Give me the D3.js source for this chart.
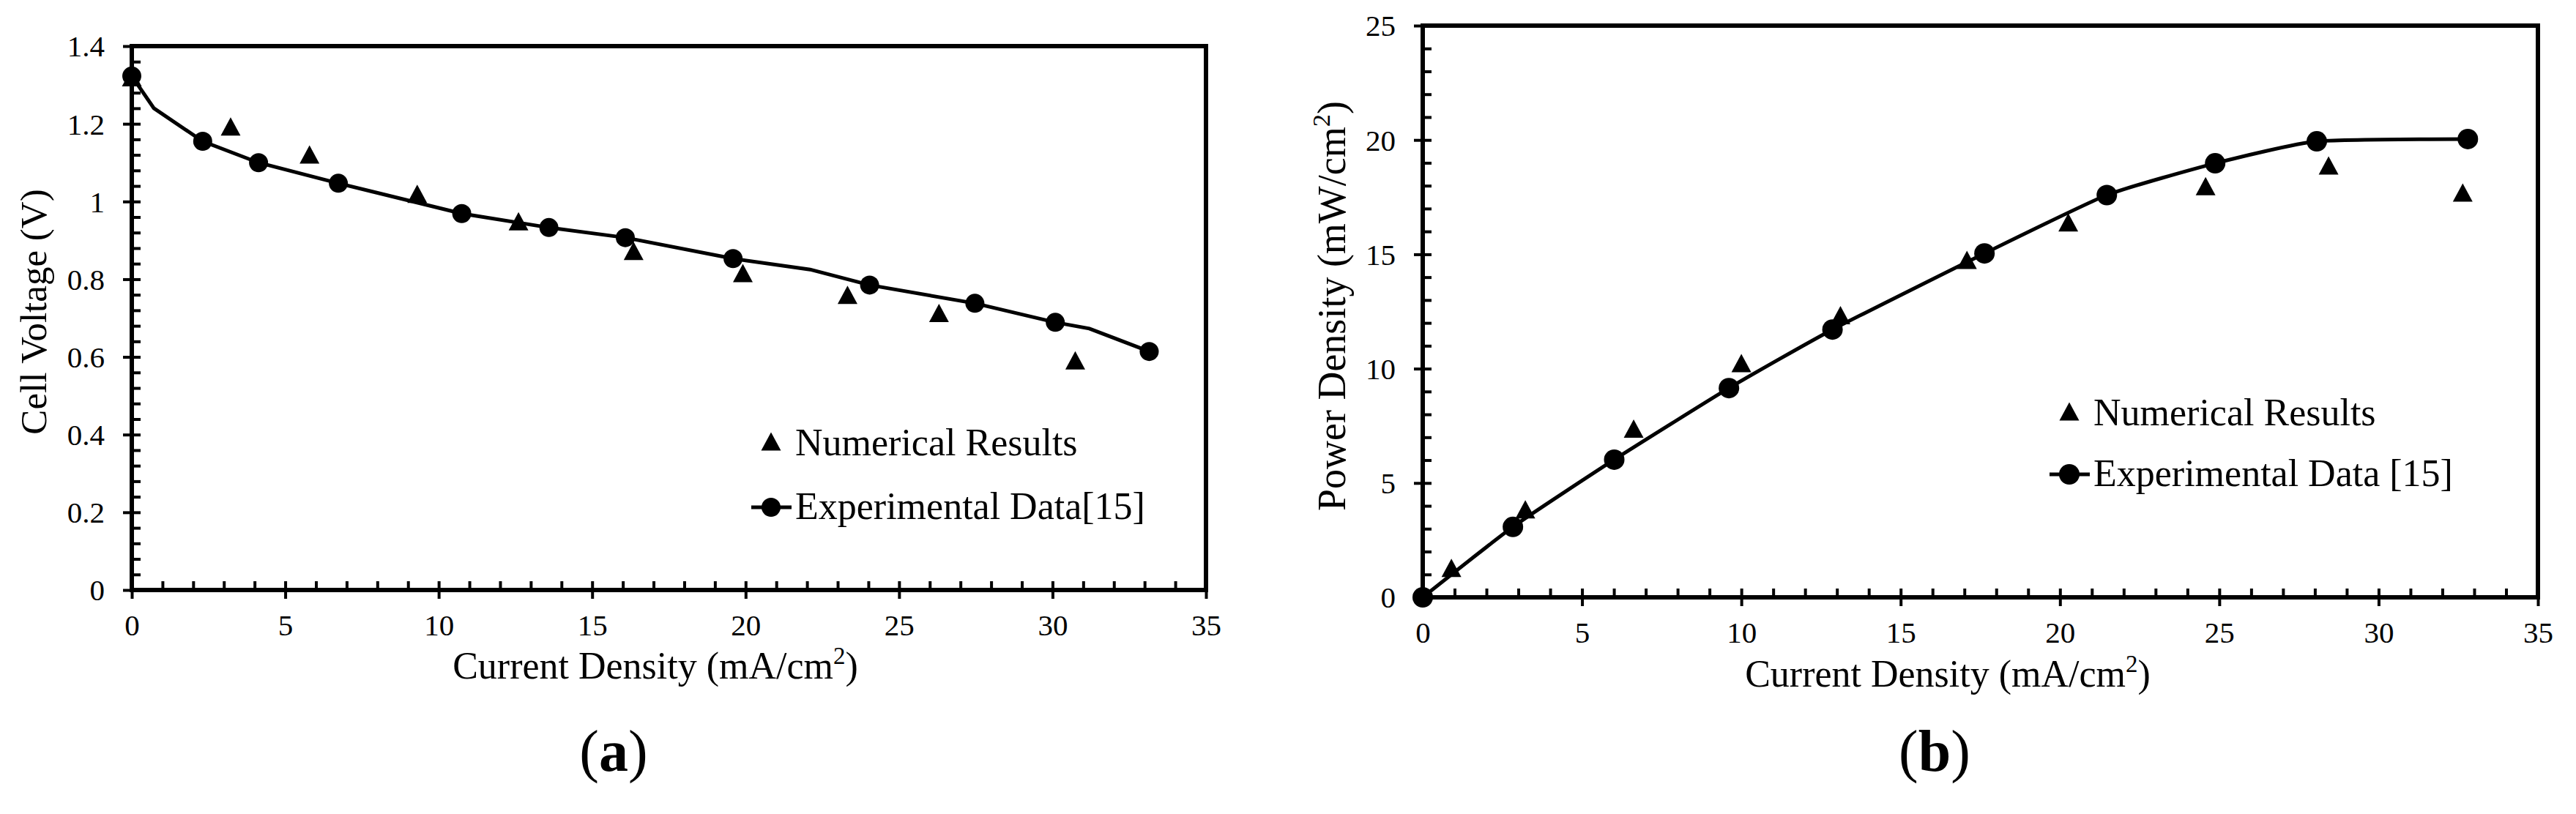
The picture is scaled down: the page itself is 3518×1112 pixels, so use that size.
<!DOCTYPE html>
<html>
<head>
<meta charset="utf-8">
<script src="https://cdn.jsdelivr.net/npm/d3@7"></script>
<style>
  body { margin: 0; background: #fff; }
  text { font-family: "Liberation Serif", "Times New Roman", serif; fill: #000; }
</style>
</head>
<body>
<svg id="fig" width="3518" height="1112"></svg>
<script>
/// (a) CELL VOLTAGE ///
const aNumX = [0, 3.22, 5.79, 9.3, 12.6, 16.35, 19.91, 23.32, 26.3, 30.74];
const aNumY = [1.32, 1.193, 1.121, 1.02, 0.949, 0.873, 0.816, 0.76, 0.713, 0.591];
const aExpX = [0, 2.31, 4.13, 6.73, 10.75, 13.59, 16.08, 19.59, 24.04, 27.47, 30.09, 33.15];
const aExpY = [1.323, 1.155, 1.1, 1.047, 0.969, 0.933, 0.907, 0.853, 0.785, 0.738, 0.689, 0.614];
// the experimental curve has a few more points than the markers
const aLineX = [0, 0.72, 2.31, 4.13, 6.73, 10.75, 13.59, 16.08, 19.59, 22.1, 24.04, 27.47, 30.09, 31.2, 33.15];
const aLineY = [1.323, 1.24, 1.155, 1.1, 1.047, 0.969, 0.933, 0.907, 0.853, 0.825, 0.785, 0.738, 0.689, 0.673, 0.614];
const aXTicks = [0, 5, 10, 15, 20, 25, 30, 35];
const aYTicks = [0, 0.2, 0.4, 0.6, 0.8, 1, 1.2, 1.4];

/// (b) POWER DENSITY ///
const bNumX = [0.9, 3.22, 6.62, 10.0, 13.11, 17.08, 20.26, 24.57, 28.43, 32.64];
const bNumY = [1.29, 3.85, 7.38, 10.24, 12.34, 14.76, 16.4, 17.98, 18.89, 17.7];
const bExpX = [0, 2.83, 6.01, 9.61, 12.86, 17.63, 21.47, 24.87, 28.06, 32.8];
const bExpY = [0, 3.08, 6.02, 9.15, 11.71, 15.04, 17.59, 18.98, 19.94, 20.04];
const bXTicks = [0, 5, 10, 15, 20, 25, 30, 35];
const bYTicks = [0, 5, 10, 15, 20, 25];

const legendNames = ["Numerical Results", "Experimental Data[15]", "Experimental Data [15]"];

const zip = (xs, ys) => xs.map((v, i) => [v, ys[i]]);

const svg = d3.select("#fig");
svg.append("rect").attr("width", 3518).attr("height", 1112).attr("fill", "#fff");

// triangle centred on its bounding box
function triPath(cx, cy, w = 27, h = 25) {
  return `M${cx},${cy - h / 2}L${cx + w / 2},${cy + h / 2}L${cx - w / 2},${cy + h / 2}Z`;
}

function drawPanel(p) {
  const x = d3.scaleLinear().domain([0, 35]).range([p.left, p.right]);
  const y = d3.scaleLinear().domain([0, p.yMax]).range([p.bottom, p.top]);
  const g = svg.append("g");

  // inward ticks (minor + major)
  g.append("g")
    .attr("transform", `translate(0,${p.bottom})`)
    .call(d3.axisBottom(x).tickValues(d3.range(0, 35.001, 1)).tickSize(-12).tickFormat(""))
    .call((s) => s.select(".domain").remove())
    .selectAll("line").attr("stroke-width", 4);

  g.append("g")
    .attr("transform", `translate(${p.left},0)`)
    .call(d3.axisLeft(y).tickValues(d3.range(0, p.yMax + 1e-9, p.yMinor)).tickSize(-12).tickFormat(""))
    .call((s) => s.select(".domain").remove())
    .selectAll("line").attr("stroke-width", 4);

  // outward major ticks with labels
  const xAxis = g.append("g")
    .attr("transform", `translate(0,${p.bottom})`)
    .call(d3.axisBottom(x).tickValues(p.xTicks).tickSize(12).tickFormat((d) => String(d)))
    .call((s) => s.select(".domain").remove());
  xAxis.selectAll("line").attr("stroke-width", 4);
  xAxis.selectAll("text").attr("y", 62).attr("dy", 0).attr("font-size", 41);

  const yAxis = g.append("g")
    .attr("transform", `translate(${p.left},0)`)
    .call(d3.axisLeft(y).tickValues(p.yTicks).tickSize(12).tickFormat((d) => String(d)))
    .call((s) => s.select(".domain").remove());
  yAxis.selectAll("line").attr("stroke-width", 4);
  yAxis.selectAll("text").attr("x", -37).attr("dy", "0.34em").attr("font-size", 41);

  // plot frame
  g.append("rect")
    .attr("x", p.left)
    .attr("y", p.top)
    .attr("width", p.right - p.left)
    .attr("height", p.bottom - p.top)
    .attr("fill", "none")
    .attr("stroke", "#000")
    .attr("stroke-width", 6);

  // experimental curve
  g.append("path")
    .datum(p.line)
    .attr("d", d3.line().x((d) => x(d[0])).y((d) => y(d[1])).curve(p.curve))
    .attr("fill", "none")
    .attr("stroke", "#000")
    .attr("stroke-width", 5);

  // numerical results
  g.selectAll(".num")
    .data(p.num)
    .enter()
    .append("path")
    .attr("class", "num")
    .attr("d", (d) => triPath(x(d[0]), y(d[1])))
    .attr("fill", "#000");

  // experimental markers
  g.selectAll(".exp")
    .data(p.exp)
    .enter()
    .append("circle")
    .attr("class", "exp")
    .attr("cx", (d) => x(d[0]))
    .attr("cy", (d) => y(d[1]))
    .attr("r", p.r)
    .attr("fill", "#000");

  // legend
  g.append("path").attr("d", triPath(p.legX, p.legY1)).attr("fill", "#000");
  g.append("text")
    .attr("x", p.legX + 33)
    .attr("y", p.legY1 + 19)
    .attr("font-size", 52)
    .text(legendNames[0]);
  g.append("line")
    .attr("x1", p.legX - 27)
    .attr("x2", p.legX + 28)
    .attr("y1", p.legY2)
    .attr("y2", p.legY2)
    .attr("stroke", "#000")
    .attr("stroke-width", 5);
  g.append("circle").attr("cx", p.legX).attr("cy", p.legY2).attr("r", p.r).attr("fill", "#000");
  g.append("text")
    .attr("x", p.legX + 33)
    .attr("y", p.legY2 + 16)
    .attr("font-size", 52)
    .text(p.expName);

  // x title
  const xt = g.append("text")
    .attr("x", p.xTitleX)
    .attr("y", p.xTitleY)
    .attr("text-anchor", "middle")
    .attr("font-size", 52);
  xt.append("tspan").text("Current Density (mA/cm");
  xt.append("tspan").attr("font-size", 33).attr("dy", -20).text("2");
  xt.append("tspan").attr("dy", 20).text(")");

  // y title
  const yt = g.append("text")
    .attr("transform", `translate(${p.yTitleX},${p.yTitleY}) rotate(-90)`)
    .attr("text-anchor", "middle")
    .attr("font-size", p.yTitleSize);
  p.yTitle.forEach((part) => {
    const t = yt.append("tspan").text(part.t);
    if (part.sup) t.attr("font-size", p.yTitleSize * 0.64).attr("dy", -21);
    if (part.down) t.attr("dy", 21);
  });

  // panel tag
  const tag = g.append("text")
    .attr("x", p.tagX)
    .attr("y", 1053)
    .attr("text-anchor", "middle")
    .attr("font-size", 80);
  tag.append("tspan").text("(");
  tag.append("tspan").attr("font-weight", "bold").text(p.tag);
  tag.append("tspan").text(")");
}

drawPanel({
  left: 180, right: 1647, top: 63, bottom: 806,
  yMax: 1.4, yMinor: 0.04, xTicks: aXTicks, yTicks: aYTicks,
  line: zip(aLineX, aLineY), curve: d3.curveLinear,
  num: zip(aNumX, aNumY), exp: zip(aExpX, aExpY), r: 13,
  legX: 1053, legY1: 603, legY2: 693, expName: legendNames[1],
  xTitleX: 895, xTitleY: 927,
  yTitleX: 63, yTitleY: 426, yTitleSize: 51,
  yTitle: [{ t: "Cell Voltage (V)" }],
  tagX: 838, tag: "a",
});

drawPanel({
  left: 1943, right: 3466, top: 35, bottom: 816,
  yMax: 25, yMinor: 1, xTicks: bXTicks, yTicks: bYTicks,
  line: zip(bExpX, bExpY), curve: d3.curveCardinal.tension(0.5),
  num: zip(bNumX, bNumY), exp: zip(bExpX, bExpY), r: 14,
  legX: 2826, legY1: 562, legY2: 648, expName: legendNames[2],
  xTitleX: 2660, xTitleY: 938,
  yTitleX: 1837, yTitleY: 418, yTitleSize: 54,
  yTitle: [{ t: "Power Density (mW/cm" }, { t: "2", sup: true }, { t: ")", down: true }],
  tagX: 2642, tag: "b",
});
</script>
</body>
</html>
